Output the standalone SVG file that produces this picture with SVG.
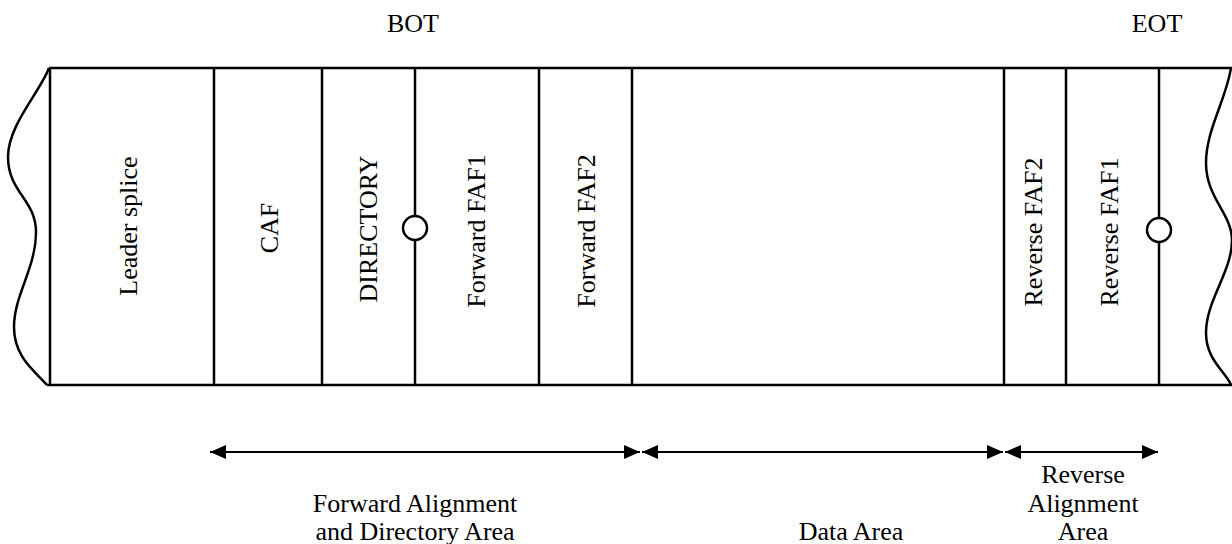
<svg xmlns="http://www.w3.org/2000/svg" width="1232" height="544" viewBox="0 0 1232 544">
<style>
.ln{stroke:#000;stroke-width:2.5;fill:none}
.t{font-family:"Liberation Serif","Times New Roman",serif;font-size:26px;fill:#000;text-anchor:middle}
.c{fill:#fff;stroke:#000;stroke-width:2.5}
.ar{stroke:#000;stroke-width:2;fill:none;marker-start:url(#ah);marker-end:url(#ah)}
</style>
<defs>
<marker id="ah" markerUnits="userSpaceOnUse" markerWidth="16" markerHeight="14" refX="16" refY="7" orient="auto-start-reverse" viewBox="0 0 16 14">
<path d="M0,0 L16,7 L0,14 z" fill="#000"/>
</marker>
</defs>
<rect width="1232" height="544" fill="#fff"/>
<g id="tape">
<path class="ln" d="M49,68 H1232 M47,385 H1232"/>
<path class="ln" d="M49,68 C40,92 8,125 8,157 C8,192 36,200 36,232 C36,268 14,295 14,327 C14,358 36,372 47,385"/>
<line class="ln" x1="50" y1="68" x2="50" y2="385"/>
<path class="ln" d="M1231,68 C1226,100 1206,130 1206,163 C1206,198 1232,214 1232,240 C1232,272 1206,300 1206,333 C1206,360 1226,372 1231,385"/>
</g>
<g id="leader-splice"><text class="t" transform="translate(137,226) rotate(-90)">Leader splice</text></g>
<g id="caf"><line class="ln" x1="214" y1="68" x2="214" y2="385"/><text class="t" transform="translate(278,228) rotate(-90)">CAF</text></g>
<g id="directory"><line class="ln" x1="322" y1="68" x2="322" y2="385"/><text class="t" transform="translate(377,229) rotate(-90)">DIRECTORY</text></g>
<g id="forward-faf1"><line class="ln" x1="415" y1="68" x2="415" y2="385"/><circle class="c" cx="415" cy="228" r="12"/><text class="t" transform="translate(485,231) rotate(-90)">Forward FAF1</text></g>
<g id="forward-faf2"><line class="ln" x1="539" y1="68" x2="539" y2="385"/><text class="t" transform="translate(595,231) rotate(-90)">Forward FAF2</text></g>
<g id="data"><line class="ln" x1="632" y1="68" x2="632" y2="385"/></g>
<g id="reverse-faf2"><line class="ln" x1="1004" y1="68" x2="1004" y2="385"/><text class="t" transform="translate(1042,232) rotate(-90)">Reverse FAF2</text></g>
<g id="reverse-faf1"><line class="ln" x1="1066" y1="68" x2="1066" y2="385"/><text class="t" transform="translate(1118,232) rotate(-90)">Reverse FAF1</text></g>
<g id="eot-edge"><line class="ln" x1="1159" y1="68" x2="1159" y2="385"/><circle class="c" cx="1159" cy="230" r="12"/></g>
<g id="bot"><text class="t" x="413" y="32">BOT</text></g>
<g id="eot"><text class="t" x="1157" y="32">EOT</text></g>
<g id="connectors">
<line class="ar" x1="210" y1="452" x2="640" y2="452"/>
<line class="ar" x1="642" y1="452" x2="1003" y2="452"/>
<line class="ar" x1="1005" y1="452" x2="1158" y2="452"/>
</g>
<g id="fwd-area"><text class="t" x="415" y="512">Forward Alignment</text><text class="t" x="415" y="540">and Directory Area</text></g>
<g id="data-area"><text class="t" x="851" y="540">Data Area</text></g>
<g id="rev-area"><text class="t" x="1083" y="483">Reverse</text><text class="t" x="1083" y="512">Alignment</text><text class="t" x="1083" y="540">Area</text></g>
</svg>
